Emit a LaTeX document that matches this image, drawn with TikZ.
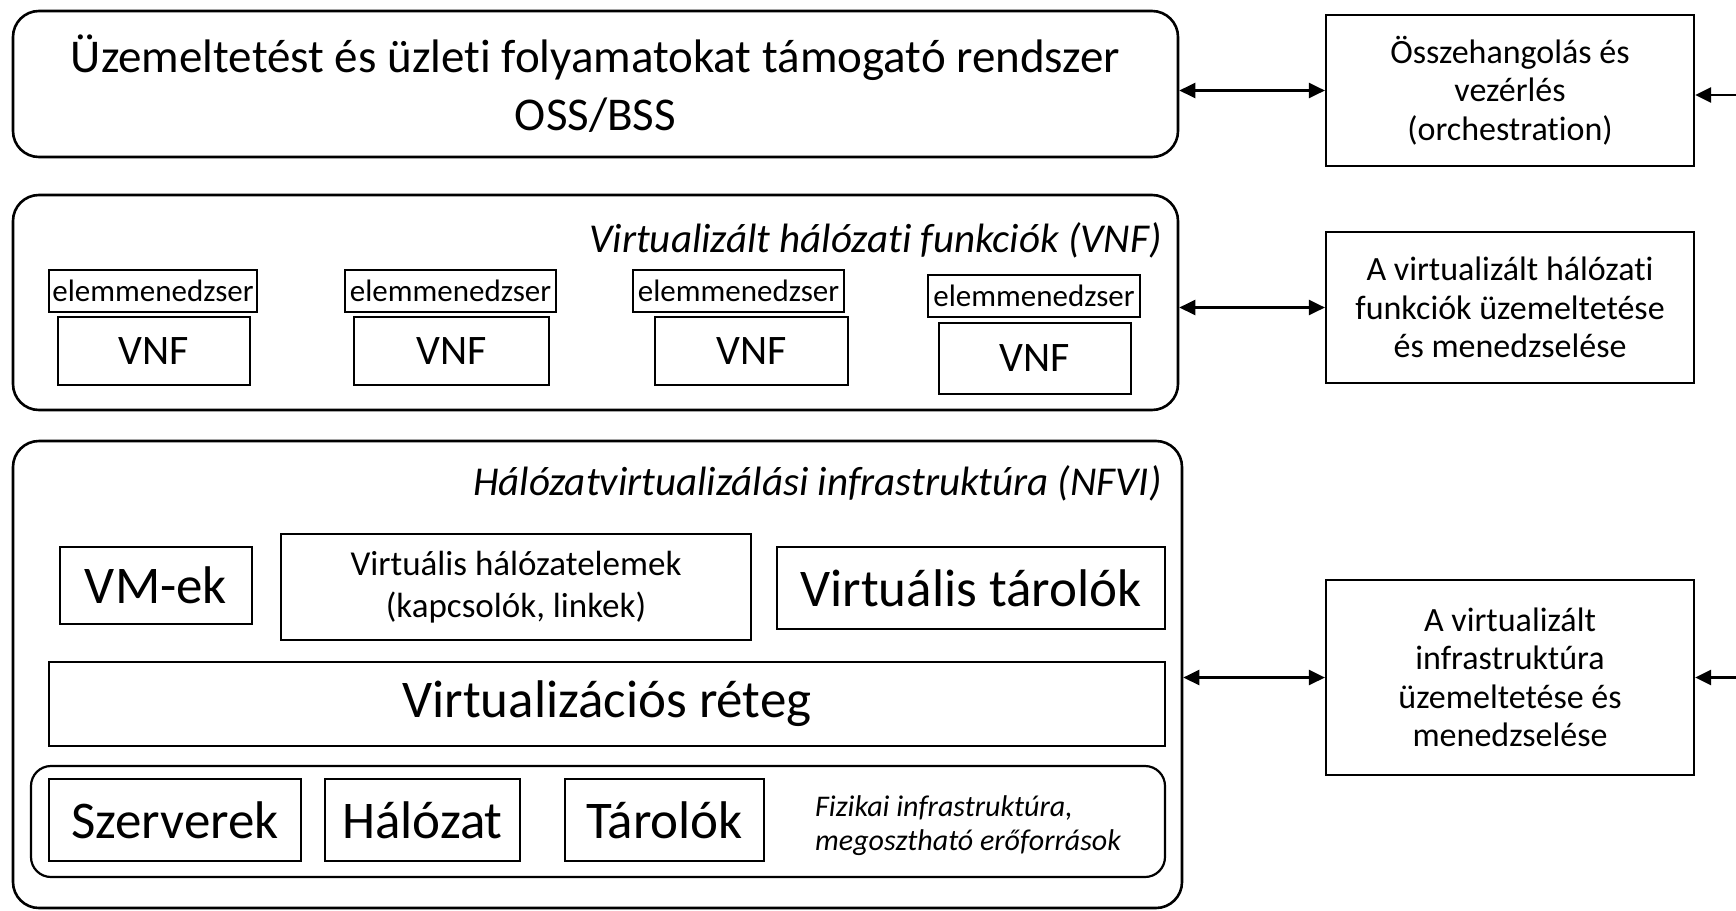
\documentclass[tikz,border=0pt]{standalone}
\usepackage{fontspec}
\setmainfont{Carlito}[Ligatures={NoCommon}]
\usetikzlibrary{arrows.meta}
\tikzset{
  bx/.style={draw, line width=2.2pt, inner sep=0pt, align=center},
  outer/.style={bx, rounded corners=26pt, line width=2.6pt},
  arr/.style={line width=2.6pt, {Triangle[length=16pt,width=15pt]}-{Triangle[length=16pt,width=15pt]}},
  arrin/.style={line width=2.6pt, -{Triangle[length=16pt,width=15pt]}},
  top/.style={font=\fontsize{47}{58}\selectfont},
  big/.style={font=\fontsize{53}{60}\selectfont},
  mid/.style={font=\fontsize{34}{38.5}\selectfont},
  vnff/.style={font=\fontsize{42}{48}\selectfont},
  em/.style={font=\fontsize{31}{36}\selectfont},
  ttl/.style={font=\fontsize{41}{48}\selectfont\itshape},
}
\begin{document}
\begin{tikzpicture}[x=1pt,y=-1pt]
\useasboundingbox (0,0) rectangle (1736,910);
% top layer
\node[outer, top, minimum width=1165pt, minimum height=146pt] (oss) at (595.5,84) {Üzemeltetést és üzleti folyamatokat támogató rendszer\\OSS/BSS};
\node[bx, mid, minimum width=368pt, minimum height=151pt] (orch) at (1510,90.5) {Összehangolás és\\vezérlés\\(orchestration)};
% VNF layer
\node[outer, minimum width=1165pt, minimum height=215pt] (vnfl) at (595.5,302.5) {};
\node[ttl, anchor=east, inner sep=0pt] (vnft) at (1162,240) {Virtualizált hálózati funkciók (VNF)};
\node[bx, em, minimum width=208pt, minimum height=42pt] (em1) at (153,291) {elemmenedzser};
\node[bx, vnff, minimum width=192pt, minimum height=68pt] (v1) at (154,351) {VNF};
\node[bx, em, minimum width=211pt, minimum height=42pt] (em2) at (450.5,291) {elemmenedzser};
\node[bx, vnff, minimum width=195pt, minimum height=68pt] (v2) at (451.5,351) {VNF};
\node[bx, em, minimum width=211pt, minimum height=42pt] (em3) at (738.5,291) {elemmenedzser};
\node[bx, vnff, minimum width=193pt, minimum height=68pt] (v3) at (751.5,351) {VNF};
\node[bx, em, minimum width=212pt, minimum height=42pt] (em4) at (1034,296) {elemmenedzser};
\node[bx, vnff, minimum width=192pt, minimum height=71pt] (v4) at (1035,358.5) {VNF};
\node[bx, mid, minimum width=368pt, minimum height=151pt] (vnfm) at (1510,307.5) {A virtualizált hálózati\\funkciók üzemeltetése\\és menedzselése};
% NFVI layer
\node[outer, minimum width=1169pt, minimum height=467pt] (nfvi) at (597.5,674.5) {};
\node[ttl, anchor=east, inner sep=0pt] (nfvit) at (1162,483) {Hálózatvirtualizálási infrastruktúra (NFVI)};
\node[bx, big, minimum width=192pt, minimum height=77pt] (vm) at (156,585.5) {VM-ek};
\node[bx, font=\fontsize{35}{42}\selectfont, minimum width=470pt, minimum height=106pt] (vhe) at (516,587) {Virtuális hálózatelemek\\(kapcsolók, linkek)};
\node[bx, big, minimum width=388pt, minimum height=82pt] (vt) at (971,588) {Virtuális tárolók};
\node[bx, big, minimum width=1116pt, minimum height=84pt] (vr) at (607,704) {Virtualizációs réteg};
\node[bx, rounded corners=20pt, minimum width=1134pt, minimum height=111pt] (phys) at (598,821.5) {};
\node[bx, big, minimum width=252pt, minimum height=82pt] (sz) at (175,820) {Szerverek};
\node[bx, big, minimum width=195pt, minimum height=82pt] (ha) at (422.5,820) {Hálózat};
\node[bx, big, minimum width=199pt, minimum height=82pt] (ta) at (664.5,820) {Tárolók};
\node[anchor=west, align=left, inner sep=0pt, font=\fontsize{30}{34}\selectfont\itshape] (fiz) at (815,826) {Fizikai infrastruktúra,\\megosztható erőforrások};
\node[bx, mid, minimum width=368pt, minimum height=195pt] (infm) at (1510,677.5) {A virtualizált\\infrastruktúra\\üzemeltetése és\\menedzselése};
% connectors
\draw[arr] (oss.east |- orch.west) -- (orch.west);
\draw[arr] (vnfl.east |- vnfm.west) -- (vnfm.west);
\draw[arr] (nfvi.east |- infm.west) -- (infm.west);
\coordinate (r1) at (1736,95);
\coordinate (r3) at (1736,677.5);
\draw[arrin] (r1) -- (orch.east |- r1);
\draw[arrin] (r3) -- (infm.east |- r3);
\end{tikzpicture}
\end{document}
